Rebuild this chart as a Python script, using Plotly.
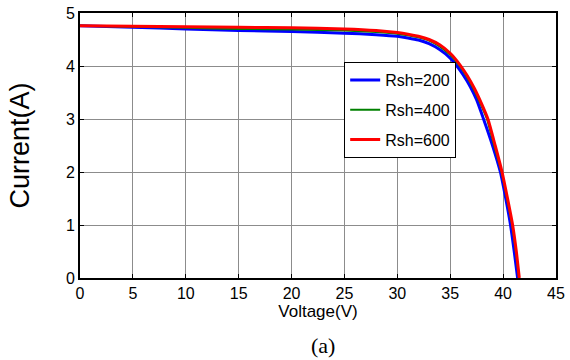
import plotly.graph_objects as go

# Data
v_rsh200 = [0, 5, 10, 15, 20, 25, 28, 30, 31, 32, 33, 34, 35, 35.6, 36.2, 36.9, 37.5, 38.15, 39.0, 39.74, 40.25, 40.7, 41.05, 41.37]
i_rsh200 = [4.76, 4.73, 4.70, 4.67, 4.65, 4.62, 4.59, 4.56, 4.53, 4.49, 4.42, 4.31, 4.15, 4.01, 3.84, 3.61, 3.36, 3.00, 2.50, 2.00, 1.50, 1.00, 0.50, 0.0]

v_rsh400 = [0, 5, 10, 15, 20, 25, 28, 30, 31, 32, 33, 34, 35, 35.5, 35.9, 36.5, 37.2, 37.9, 38.47, 39.15, 39.85, 40.37, 40.85, 41.2, 41.5]
i_rsh400 = [4.76, 4.74, 4.72, 4.70, 4.69, 4.67, 4.64, 4.61, 4.58, 4.54, 4.48, 4.37, 4.21, 4.10, 4.00, 3.82, 3.57, 3.27, 3.00, 2.50, 2.00, 1.50, 1.00, 0.50, 0.0]

v_rsh600 = [0, 5, 10, 15, 20, 25, 28, 30, 31, 32, 33, 34, 35, 35.5, 36.0, 36.6, 37.3, 38.0, 38.56, 39.25, 39.9, 40.42, 40.9, 41.25, 41.53]
i_rsh600 = [4.76, 4.75, 4.74, 4.73, 4.72, 4.70, 4.67, 4.63, 4.60, 4.56, 4.50, 4.40, 4.24, 4.13, 4.00, 3.82, 3.57, 3.27, 3.00, 2.50, 2.00, 1.50, 1.00, 0.50, 0.0]

series_names = ["Rsh=200", "Rsh=400", "Rsh=600"]
x_ticks = [0, 5, 10, 15, 20, 25, 30, 35, 40, 45]
y_ticks = [0, 1, 2, 3, 4, 5]

SANS = "Liberation Sans, Arial, sans-serif"

fig = go.Figure()
fig.add_trace(go.Scatter(x=v_rsh200, y=i_rsh200, mode="lines", name=series_names[0],
                         legendgroup="g1",
                         line=dict(color="#0000FF", width=3, shape="spline", smoothing=0.6)))
fig.add_trace(go.Scatter(x=v_rsh400, y=i_rsh400, mode="lines", name=series_names[1],
                         legendgroup="g2",
                         line=dict(color="#008000", width=2, shape="spline", smoothing=0.6)))
fig.add_trace(go.Scatter(x=v_rsh600, y=i_rsh600, mode="lines", name=series_names[2],
                         legendgroup="g3",
                         line=dict(color="#FF0000", width=3, shape="spline", smoothing=0.6)))

axis_common = dict(showline=True, linecolor="black", linewidth=2, mirror="ticks",
                   ticks="inside", ticklen=4, tickcolor="black", tickwidth=1,
                   showgrid=True, gridcolor="#8c8c8c", gridwidth=1, zeroline=False,
                   automargin=False,
                   tickfont=dict(family=SANS, size=16, color="black"))

fig.update_layout(
    width=570, height=360,
    margin=dict(l=80, r=14, t=13, b=82),
    paper_bgcolor="white", plot_bgcolor="white",
    xaxis=dict(range=[0, 45], tickvals=x_ticks,
               title=dict(text="Voltage(V)", standoff=2,
                          font=dict(family=SANS, size=17, color="black")),
               **axis_common),
    yaxis=dict(range=[0, 5], tickvals=y_ticks,
               title=dict(text="Current(A)", standoff=28,
                          font=dict(family=SANS, size=27, color="black")),
               **axis_common),
    legend=dict(x=0.555, y=0.815, xanchor="left", yanchor="top",
                bgcolor="white", bordercolor="black", borderwidth=1,
                itemwidth=30, tracegroupgap=6,
                font=dict(family=SANS, size=16, color="black")),
    annotations=[dict(text="(a)", xref="paper", yref="paper", x=0.51, y=-0.255,
                      xanchor="center", yanchor="middle", showarrow=False,
                      font=dict(family="Liberation Serif, Times New Roman, serif", size=22, color="black"))],
)

fig.write_html("out.html")
